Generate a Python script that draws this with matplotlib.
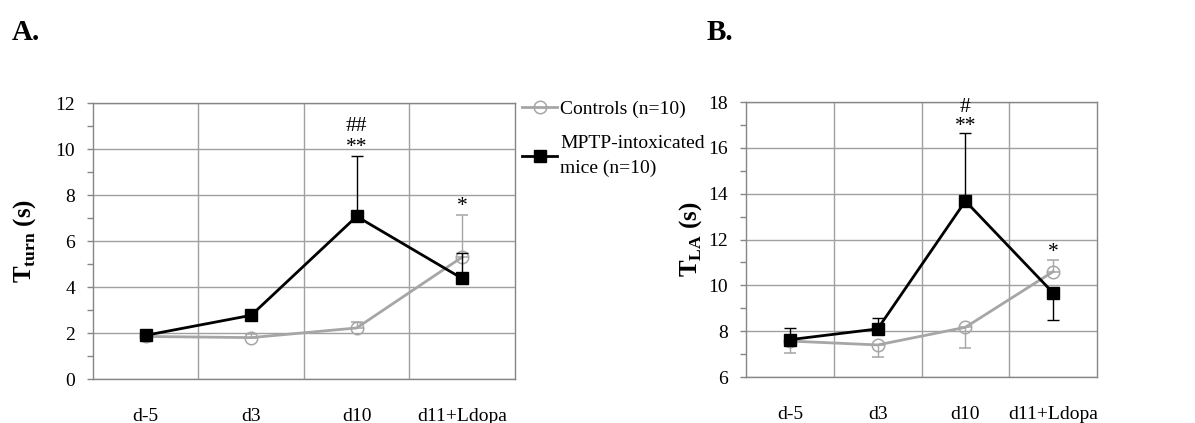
import numpy as np
import matplotlib
matplotlib.use("Agg")
import matplotlib.pyplot as plt
from matplotlib.lines import Line2D
from matplotlib.ticker import MultipleLocator

plt.rcParams["font.family"] = ["Liberation Serif", "DejaVu Serif"]
plt.rcParams["mathtext.fontset"] = "custom"
plt.rcParams["mathtext.rm"] = "Liberation Serif"
plt.rcParams["mathtext.bf"] = "Liberation Serif:bold"

days = ["d-5", "d3", "d10", "d11+Ldopa"]

# Tturn (s)
turn_ctrl = [1.85, 1.8, 2.22, 5.3]
turn_ctrl_lo = [0, 0, 0, 0]
turn_ctrl_hi = [0.08, 0.15, 0.27, 1.85]
turn_mptp = [1.9, 2.77, 7.07, 4.37]
turn_mptp_lo = [0, 0, 0, 0]
turn_mptp_hi = [0.08, 0.08, 2.63, 1.1]

# TLA (s)
la_ctrl = [7.57, 7.4, 8.17, 10.6]
la_ctrl_lo = [0.53, 0.54, 0.9, 0]
la_ctrl_hi = [0, 0, 0, 0.5]
la_mptp = [7.63, 8.1, 13.68, 9.67]
la_mptp_lo = [0, 0, 0, 1.18]
la_mptp_hi = [0.5, 0.48, 2.95, 0]

# significance marks: (category index, y, text)
turn_marks = [(2, 11.0, "##"), (2, 10.05, "**"), (3, 7.5, "*")]
la_marks = [(2, 17.75, "#"), (2, 16.95, "**"), (3, 11.45, "*")]

GRAY = "#a6a6a6"
GRID = "#a0a0a0"
SPINE = "#868686"


def draw_panel(ax, ctrl, ctrl_err, mptp, mptp_err, ylim, ylabel, marks, labelpad):
    x = np.arange(len(days))
    ax.errorbar(x, ctrl, yerr=ctrl_err, color=GRAY, lw=2, marker="o", ms=9,
                mfc="none", mec=GRAY, mew=1.1, ecolor=GRAY, elinewidth=1,
                capsize=4, capthick=1, zorder=3)
    ax.errorbar(x, mptp, yerr=mptp_err, color="black", lw=2, marker="s", ms=8,
                mfc="black", mec="black", ecolor="black", elinewidth=1,
                capsize=4, capthick=1, zorder=4)
    for i, y, s in marks:
        ax.text(i, y, s, ha="center", va="center", fontsize=15.5)

    ax.set_xlim(-0.5, len(days) - 0.5)
    ax.set_ylim(*ylim)
    ax.set_xticks(x)
    ax.set_xticklabels(days)
    ax.set_xticks(np.arange(0.5, len(days) - 1), minor=True)
    ax.yaxis.set_major_locator(MultipleLocator(2))
    ax.yaxis.set_minor_locator(MultipleLocator(1))
    ax.grid(True, which="major", axis="y", color=GRID, lw=1)
    ax.grid(True, which="minor", axis="x", color=GRID, lw=1)
    ax.tick_params(axis="x", which="both", length=0, pad=21, labelsize=14)
    ax.tick_params(axis="y", which="both", direction="out", length=4,
                   width=1, color=SPINE, pad=9, labelsize=14)
    for sp in ax.spines.values():
        sp.set_color(SPINE)
        sp.set_linewidth(1)
    ax.set_axisbelow(True)
    ax.set_ylabel(ylabel, fontsize=18, fontweight="bold", labelpad=labelpad)


fig = plt.figure(figsize=(11.95, 4.23), dpi=100)
ax_a = fig.add_axes([0.0778, 0.104, 0.3531, 0.6525])
ax_b = fig.add_axes([0.6243, 0.1087, 0.2937, 0.650])

draw_panel(ax_a, turn_ctrl, [turn_ctrl_lo, turn_ctrl_hi],
           turn_mptp, [turn_mptp_lo, turn_mptp_hi], (0, 12),
           r"$\mathbf{T}_{\mathbf{turn}}$ (s)", turn_marks, 12)
draw_panel(ax_b, la_ctrl, [la_ctrl_lo, la_ctrl_hi],
           la_mptp, [la_mptp_lo, la_mptp_hi], (6, 18),
           r"$\mathbf{T}_{\mathbf{LA}}$ (s)", la_marks, 3)

fig.text(0.010, 0.955, "A.", fontsize=21, fontweight="bold", va="top")
fig.text(0.591, 0.955, "B.", fontsize=21, fontweight="bold", va="top")

# legend shows line + marker only
handles = [
    Line2D([], [], color=GRAY, lw=2, marker="o", ms=9, mfc="none",
           mec=GRAY, mew=1.1),
    Line2D([], [], color="black", lw=2, marker="s", ms=8, mfc="black",
           mec="black"),
]
labels = ["Controls (n=10)", "MPTP-intoxicated\nmice (n=10)"]
leg = fig.legend(handles, labels, loc="upper left",
                 bbox_to_anchor=(0.437, 0.763), frameon=False, fontsize=14,
                 handlelength=1.8, handletextpad=0.15, borderpad=0,
                 borderaxespad=0, labelspacing=0.9)
for t in leg.get_texts():
    t.set_linespacing(1.55)

fig.savefig("out.png", dpi=100)
